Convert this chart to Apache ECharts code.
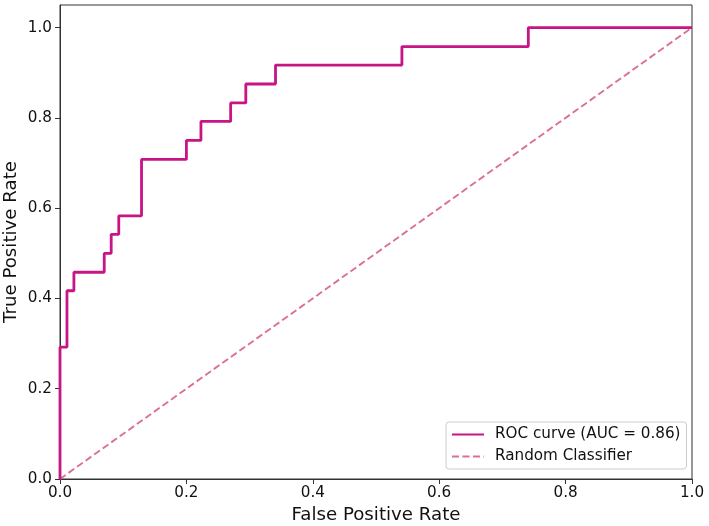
<!DOCTYPE html>
<html>
<head>
<meta charset="utf-8">
<script src="https://cdn.jsdelivr.net/npm/echarts@6/dist/echarts.min.js"></script>
<style>
html,body{margin:0;padding:0;background:#fff;}
#chart{width:709px;height:526px;}
</style>
</head>
<body>
<div id="chart"></div>
<script>
// ROC curve points (False Positive Rate, True Positive Rate)
const fpr = [0, 0, 0.011, 0.011, 0.022, 0.022, 0.07, 0.07, 0.081, 0.081, 0.093, 0.093, 0.129, 0.129, 0.2, 0.2, 0.223, 0.223, 0.27, 0.27, 0.294, 0.294, 0.341, 0.341, 0.541, 0.541, 0.741, 0.741, 1.0];
const tpr = [0, 0.292, 0.292, 0.417, 0.417, 0.458, 0.458, 0.5, 0.5, 0.542, 0.542, 0.583, 0.583, 0.708, 0.708, 0.75, 0.75, 0.792, 0.792, 0.833, 0.833, 0.875, 0.875, 0.917, 0.917, 0.958, 0.958, 1.0, 1.0];
// Random classifier diagonal
const randX = [0, 1];
const randY = [0, 1];
const xTicks = [0, 0.2, 0.4, 0.6, 0.8, 1.0];
const yTicks = [0, 0.2, 0.4, 0.6, 0.8, 1.0];
const rocName = 'ROC curve (AUC = 0.86)';
const randName = 'Random Classifier';

const font = 'DejaVu Sans';
const chart = echarts.init(document.getElementById('chart'));
chart.setOption({
  animation: false,
  backgroundColor: '#fff',
  textStyle: { fontFamily: font },
  grid: { left: 60, right: 17, top: 5, bottom: 47, show: true, borderColor: '#333', borderWidth: 1, containLabel: false, outerBoundsMode: 'none' },
  legend: {
    orient: 'vertical',
    left: 446, top: 422,
    padding: [5, 6, 5, 5],
    itemGap: 7,
    itemWidth: 32, itemHeight: 14,
    borderColor: '#cccccc', borderWidth: 1, borderRadius: 3,
    backgroundColor: 'rgba(255,255,255,0.8)',
    itemStyle: { opacity: 0 },
    textStyle: { fontFamily: font, fontSize: 15.2, color: '#111', padding: [0, 0, 0, 6] },
    data: [rocName, randName]
  },
  xAxis: {
    type: 'value', min: 0, max: 1, interval: 0.2,
    name: 'False Positive Rate', nameLocation: 'middle', nameGap: 24,
    nameTextStyle: { fontFamily: font, fontSize: 18.2, color: '#111' },
    axisLine: { show: true, lineStyle: { color: '#333', width: 1 } },
    axisTick: { show: true, length: 5, lineStyle: { color: '#333' }, customValues: xTicks },
    axisLabel: { fontFamily: font, fontSize: 15.2, color: '#111', margin: 7, customValues: xTicks, formatter: v => v.toFixed(1) },
    splitLine: { show: false }
  },
  yAxis: {
    type: 'value', min: 0, max: 1.05, interval: 0.2,
    name: 'True Positive Rate', nameLocation: 'middle', nameGap: 40, nameMoveOverlap: false,
    nameTextStyle: { fontFamily: font, fontSize: 18.2, color: '#111' },
    axisLine: { show: true, lineStyle: { color: '#333', width: 1 } },
    axisTick: { show: true, length: 5, lineStyle: { color: '#333' }, customValues: yTicks },
    axisLabel: { fontFamily: font, fontSize: 15.2, color: '#111', margin: 8, customValues: yTicks, formatter: v => v.toFixed(1) },
    splitLine: { show: false }
  },
  series: [
    {
      name: rocName, type: 'line', symbol: 'none', clip: false,
      data: fpr.map((x, i) => [x, tpr[i]]),
      lineStyle: { color: '#C71585', width: 2.8 },
      itemStyle: { color: '#C71585' },
      z: 3
    },
    {
      name: randName, type: 'line', symbol: 'none', clip: false,
      data: randX.map((x, i) => [x, randY[i]]),
      lineStyle: { color: '#DB7093', width: 1.9, type: [7, 3.5] },
      itemStyle: { color: '#DB7093' },
      z: 2
    }
  ]
});
</script>
</body>
</html>
